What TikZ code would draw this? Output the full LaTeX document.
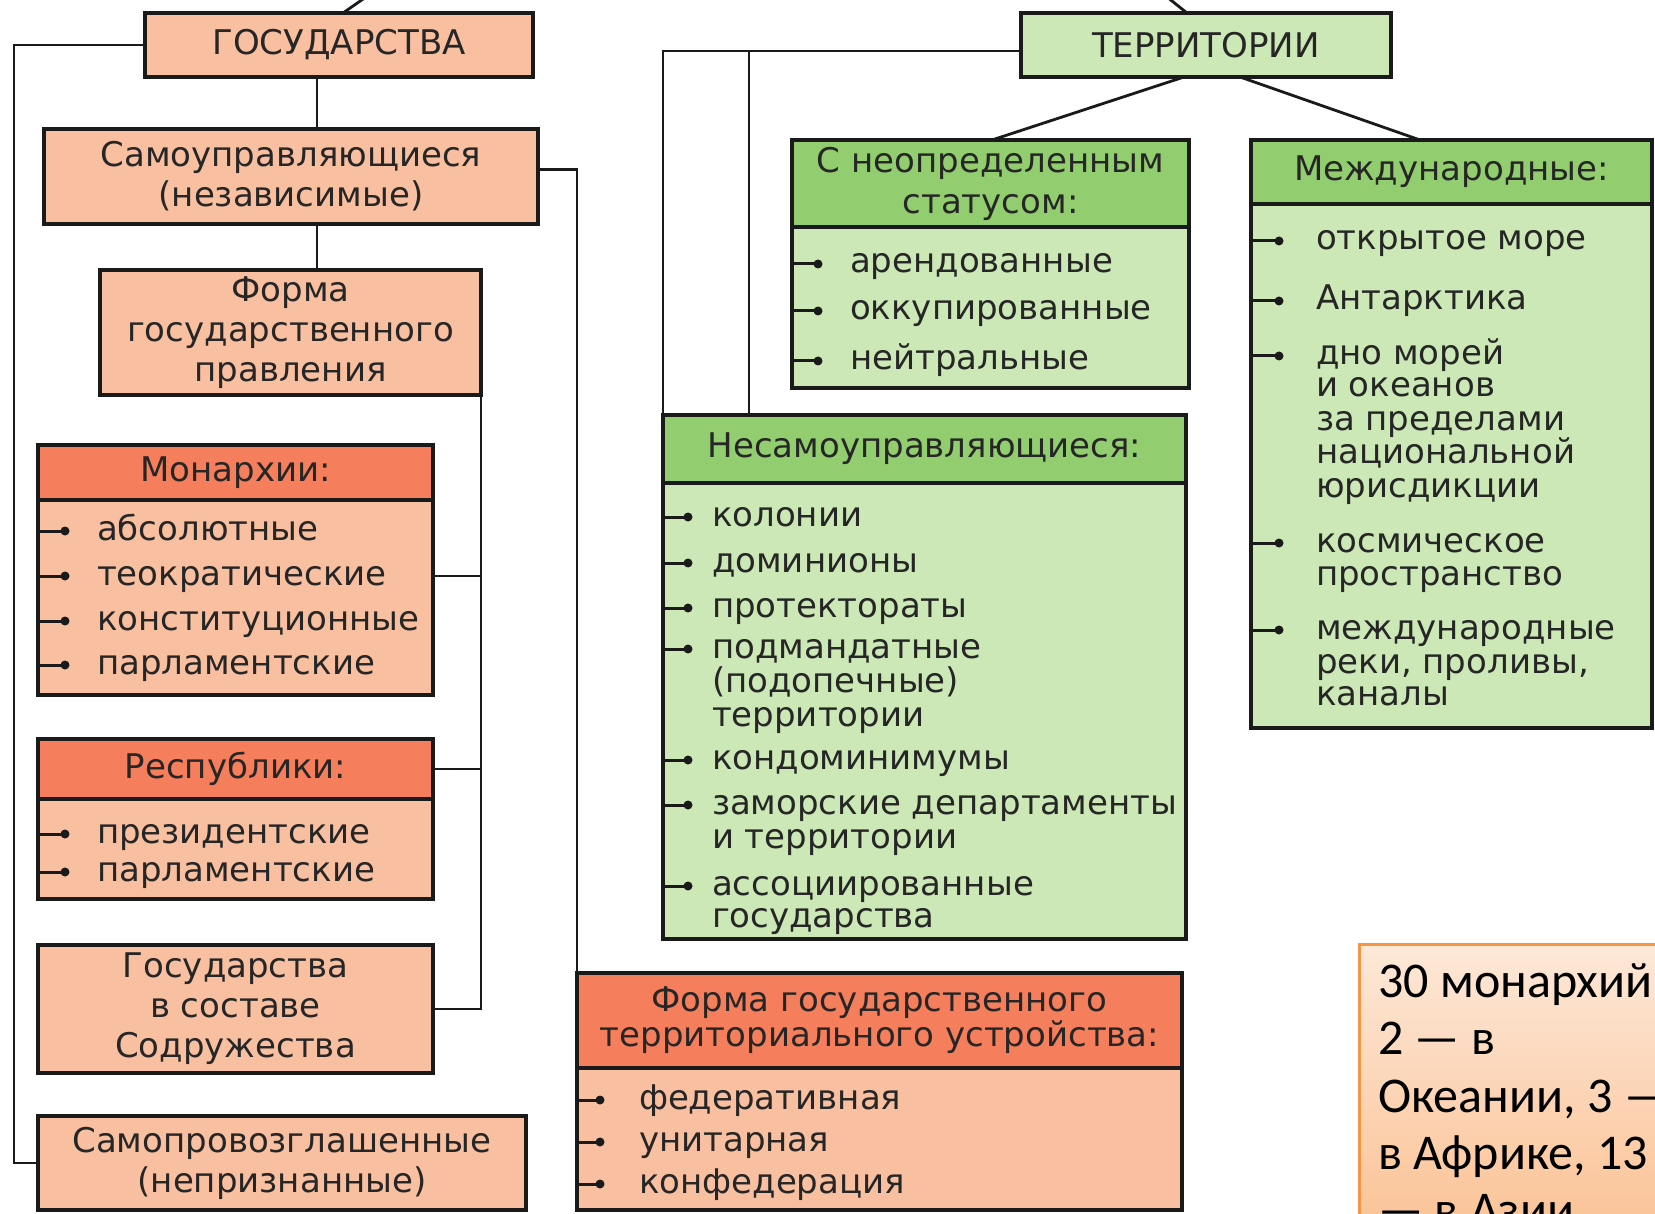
\documentclass[tikz,border=0pt]{standalone}
\usepackage{fontspec}
\setmainfont{DejaVu Sans}
\newfontfamily\notefont{Carlito}
\definecolor{salL}{HTML}{F9BFA1}
\definecolor{salH}{HTML}{F57E5C}
\definecolor{grnL}{HTML}{CDE8B7}
\definecolor{grnH}{HTML}{92CE70}
\definecolor{ink}{HTML}{1A1A1A}
\definecolor{txt}{HTML}{262626}
\definecolor{noteEdge}{HTML}{F79646}
\definecolor{noteTop}{HTML}{FDE8D8}
\definecolor{noteBot}{HTML}{FBC193}
\newcommand\myitem[6]{%
  \node[bdot] (#2d) at (#3,#5) {};
  \draw[bln] (#1.west |- #2d.center) -- (#2d.center);
  \node[itm] (#2) at (#4,#5) {#6};}
\newcommand\mycont[4]{\node[itm] (#1) at (#2,#3) {#4};}
\begin{document}
\begin{tikzpicture}[x=1pt,y=-1pt,
  box/.style={draw=ink, line width=4.8pt, anchor=north west, inner sep=0pt, outer sep=0pt, text=txt, font=\fontsize{34}{40}\selectfont, align=center},
  sal/.style={box, fill=salL},
  salh/.style={box, fill=salH},
  grn/.style={box, fill=grnL},
  grnh/.style={box, fill=grnH},
  con/.style={draw=ink, line width=2.8pt},
  itm/.style={anchor=west, inner sep=0pt, outer sep=0pt, text=txt, font=\fontsize{34}{34}\selectfont, text height=25pt, text depth=7pt},
  bdot/.style={circle, fill=ink, inner sep=0pt, minimum size=9pt, outer sep=0pt},
  bln/.style={draw=ink, line width=3pt},
  notetxt/.style={anchor=base west, inner sep=0pt, font=\notefont\fontsize{50}{57}\selectfont, text=black},
]
\useasboundingbox (0,0) rectangle (1655,1214);
\clip (0,0) rectangle (1655,1214);
\fill[white] (0,0) rectangle (1655,1214);

% ---------- left: states ----------
\node[sal, minimum width=388pt, minimum height=64pt] (gos) at (145,13) {ГОСУДАРСТВА};
\node[sal, minimum width=494pt, minimum height=95pt] (samo) at (44,129) {Самоуправляющиеся\\(независимые)};
\node[sal, minimum width=381pt, minimum height=125pt] (fpr) at (100,270) {Форма\\государственного\\правления};

\node[sal, minimum width=395pt, minimum height=250pt] (mon) at (38,445) {};
\node[salh, minimum width=395pt, minimum height=55pt] (monh) at (38,445) {Монархии:};
\myitem{mon}{mon1}{65}{97}{531}{абсолютные}
\myitem{mon}{mon2}{65}{97}{576}{теократические}
\myitem{mon}{mon3}{65}{97}{621}{конституционные}
\myitem{mon}{mon4}{65}{97}{665}{парламентские}

\node[sal, minimum width=395pt, minimum height=160pt] (rep) at (38,739) {};
\node[salh, minimum width=395pt, minimum height=60pt] (reph) at (38,739) {Республики:};
\myitem{rep}{rep1}{65}{97}{834}{президентские}
\myitem{rep}{rep2}{65}{97}{872}{парламентские}

\node[sal, minimum width=395pt, minimum height=128pt] (sodr) at (38,945) {Государства\\в составе\\Содружества};
\node[sal, minimum width=488pt, minimum height=94pt] (sampr) at (38,1116) {Самопровозглашенные\\(непризнанные)};

% ---------- right: territories ----------
\node[grn, minimum width=370pt, minimum height=64pt] (ter) at (1021,13) {ТЕРРИТОРИИ};

\node[grn, minimum width=397pt, minimum height=248pt] (sn) at (792,140) {};
\node[grnh, minimum width=397pt, minimum height=87pt, font=\fontsize{34}{41}\selectfont] (snh) at (792,140) {С неопределенным\\статусом:};
\myitem{sn}{sn1}{818}{850}{264}{арендованные}
\myitem{sn}{sn2}{818}{850}{311}{оккупированные}
\myitem{sn}{sn3}{818}{850}{361}{нейтральные}

\node[grn, minimum width=401pt, minimum height=588pt] (mezh) at (1251,140) {};
\node[grnh, minimum width=401pt, minimum height=64pt] (mezhh) at (1251,140) {Международные:};
\myitem{mezh}{mz1}{1279}{1316}{241}{открытое море}
\myitem{mezh}{mz2}{1279}{1316}{301}{Антарктика}
\myitem{mezh}{mz3}{1279}{1316}{356}{дно морей}
\mycont{mz3b}{1316}{388}{и океанов}
\mycont{mz3c}{1316}{422}{за пределами}
\mycont{mz3d}{1316}{455}{национальной}
\mycont{mz3e}{1316}{488}{юрисдикции}
\myitem{mezh}{mz4}{1279}{1316}{543}{космическое}
\mycont{mz4b}{1316}{576}{пространство}
\myitem{mezh}{mz5}{1279}{1316}{630}{международные}
\mycont{mz5b}{1316}{664}{реки, проливы,}
\mycont{mz5c}{1316}{696}{каналы}

\node[grn, minimum width=523pt, minimum height=524pt] (nes) at (663,415) {};
\node[grnh, minimum width=523pt, minimum height=68pt] (nesh) at (663,415) {Несамоуправляющиеся:};
\myitem{nes}{ns1}{688}{712}{517}{колонии}
\myitem{nes}{ns2}{688}{712}{563}{доминионы}
\myitem{nes}{ns3}{688}{712}{608}{протектораты}
\myitem{nes}{ns4}{688}{712}{649}{подмандатные}
\mycont{ns4b}{712}{683}{(подопечные)}
\mycont{ns4c}{712}{717}{территории}
\myitem{nes}{ns5}{688}{712}{760}{кондоминимумы}
\myitem{nes}{ns6}{688}{712}{805}{заморские департаменты}
\mycont{ns6b}{712}{839}{и территории}
\myitem{nes}{ns7}{688}{712}{886}{ассоциированные}
\mycont{ns7b}{712}{918}{государства}

% ---------- territorial structure ----------
\node[sal, minimum width=605pt, minimum height=237pt] (ftu) at (577,973) {};
\node[salh, minimum width=605pt, minimum height=95pt, font=\fontsize{34}{35}\selectfont] (ftuh) at (577,973) {Форма государственного\\территориального устройства:};
\myitem{ftu}{ft1}{600}{639}{1100}{федеративная}
\myitem{ftu}{ft2}{600}{639}{1142}{унитарная}
\myitem{ftu}{ft3}{600}{639}{1184}{конфедерация}

% ---------- note ----------
\node[draw=noteEdge, line width=2.5pt, top color=noteTop, bottom color=noteBot, anchor=north west, minimum width=330pt, minimum height=300pt, inner sep=0pt] (note) at (1358,943) {};
\node[notetxt] (nt1) at (1378,997) {30 монархий};
\node[notetxt] (nt2) at (1378,1054) {2 — в};
\node[notetxt] (nt3) at (1378,1112) {Океании, 3 —};
\node[notetxt] (nt4) at (1378,1169) {в Африке, 13};
\node[notetxt] (nt5) at (1378,1226) {— в Азии};

% ---------- connectors ----------
\coordinate (lo) at (14,0);
\coordinate (cx) at (317,0);
\coordinate (spine) at (481,0);
\coordinate (nj) at (749,0);
\coordinate (t1) at (1184,0);
\coordinate (t2) at (1240,0);
\coordinate (s1) at (992,0);
\coordinate (m1) at (1420,0);
\coordinate (gx) at (343,0);
\coordinate (gtop) at (366,-3);
\coordinate (tx) at (1187,0);
\coordinate (ttop) at (1167,-3);
\coordinate (mw) at ([yshift=-6pt]mon.east);
\coordinate (tw) at ([yshift=-6pt]ter.west);

\draw[con] (gos.west) -- (gos.west -| lo) -- (sampr.west -| lo) -- (sampr.west);
\draw[con] (gos.south -| cx) -- (samo.north -| cx);
\draw[con] (samo.south -| cx) -- (fpr.north -| cx);
\draw[con] (fpr.south east) -- (sodr.east -| spine) -- (sodr.east);
\draw[con] (mw) -- (mw -| spine);
\draw[con] (reph.east) -- (reph.east -| spine);
\draw[con] ([yshift=7pt]samo.east) -| (ftu.north west);
\draw[con] (gos.north -| gx) -- (gtop);

\draw[con] (tw) -| (nes.north west);
\draw[con] (tw -| nj) -- (nes.north -| nj);
\draw[con] (ter.south -| t1) -- (sn.north -| s1);
\draw[con] (ter.south -| t2) -- (mezh.north -| m1);
\draw[con] (ter.north -| tx) -- (ttop);
\end{tikzpicture}
\end{document}
